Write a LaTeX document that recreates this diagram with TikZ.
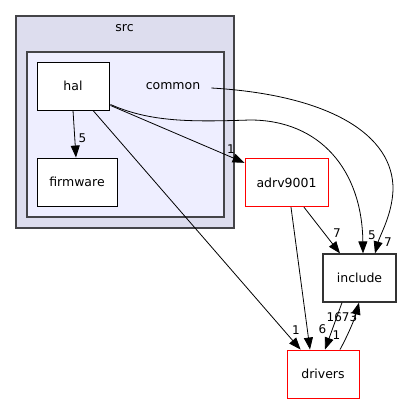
\documentclass[tikz,border=0pt]{standalone}
\usepackage{fontspec}
\setmainfont{DejaVu Sans}
\usetikzlibrary{arrows.meta,calc}
\definecolor{srcfill}{HTML}{DDDDEE}
\definecolor{comfill}{HTML}{EEEEFF}
\definecolor{clusterline}{HTML}{444448}
\begin{document}
\begin{tikzpicture}[x=1pt,y=-1pt,
  dirbox/.style={draw=black,line width=0.9pt,fill=white,rectangle,inner sep=0pt,font=\fontsize{12.5}{14}\selectfont},
  redbox/.style={dirbox,draw=red},
  clbl/.style={inner sep=0pt,font=\fontsize{12.5}{14}\selectfont},
  lbl/.style={inner sep=0pt,font=\fontsize{12}{14}\selectfont},
  dep/.style={line width=0.8pt,-{Triangle[length=12pt,width=9pt]}}
]
\useasboundingbox (0,0) rectangle (401,404);
% clusters
\draw[fill=srcfill,draw=clusterline,line width=1.8pt] (16,16) rectangle (234,228);
\node[clbl] (srclbl) at (124.5,28) {src};
\draw[fill=comfill,draw=clusterline,line width=1.8pt] (27,52) rectangle (224,217);
\node[clbl] (commonlbl) at (173,86) {common};
% nodes
\node[dirbox,minimum width=72pt,minimum height=48pt] (hal) at (73,86) {hal};
\node[dirbox,minimum width=80pt,minimum height=48pt] (firmware) at (77,182) {firmware};
\node[redbox,minimum width=83pt,minimum height=48.5pt] (adrv9001) at (286.5,182.5) {adrv9001};
\node[dirbox,minimum width=73pt,minimum height=48pt,line width=1.2pt,draw=black!80] (include) at (359.5,278) {include};
\node[redbox,minimum width=72pt,minimum height=48pt] (drivers) at (323,374) {drivers};
% edges
\draw[dep] (hal.south) -- ($(firmware.north)+(-1,0)$);
\node[lbl] (l1) at (82.5,138) {5};
\draw[dep] ($(hal.south east)+(1,-5)$) -- ($(adrv9001.north west)+(0,5)$);
\node[lbl] (l2) at (231,149) {1};
\draw[dep] ($(hal.south)+(20,0)$) -- ($(drivers.north west)+(14,0)$);
\node[lbl] (l3) at (296,330) {1};
\draw[dep] ($(hal.south east)+(1,-6)$) .. controls (150,122) and (190,122) .. (250,120)
  .. controls (320,120) and (362,170) .. ($(include.north)+(3.5,0)$);
\node[lbl] (l4) at (372,235) {5};
\draw[dep] ($(commonlbl.east)+(11,2)$) .. controls (330,95) and (394,135) .. (393,190)
  .. controls (392,215) and (380,235) .. ($(include.north)+(15.5,0)$);
\node[lbl] (l5) at (388,242) {7};
\draw[dep] ($(adrv9001.south)+(17.5,0)$) -- ($(include.north)+(-19.5,0)$);
\node[lbl] (l6) at (337,233) {7};
\draw[dep] ($(adrv9001.south)+(4.5,0)$) -- ($(drivers.north)+(-13,0)$);
\node[lbl] (l7) at (322.5,329) {6};
\draw[dep] ($(include.south)+(-17.5,0)$) -- ($(drivers.north)+(2,0)$);
\node[lbl] (l8) at (336.5,335.5) {1};
\draw[dep] ($(drivers.north)+(17,0)$) .. controls (348,335) and (355,318) .. ($(include.south)+(-0.5,0)$);
\node[lbl] (l9) at (342,317) {1673};
\end{tikzpicture}
\end{document}
